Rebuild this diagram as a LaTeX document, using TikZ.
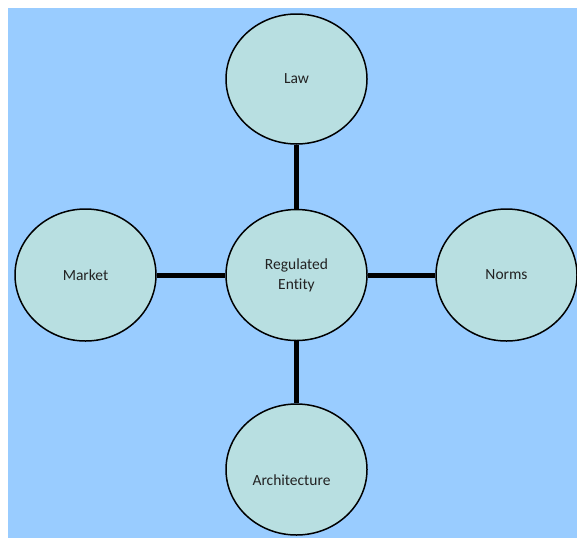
\documentclass[tikz,border=0pt]{standalone}
\usepackage{fontspec}
\setmainfont{Carlito}[Ligatures=NoCommon]
\usetikzlibrary{shapes.geometric}
\definecolor{skyback}{RGB}{153,204,255}
\definecolor{bubblefill}{RGB}{184,223,225}
\definecolor{labeltext}{RGB}{34,34,34}
\tikzset{
    force/.style={ellipse, draw=black, line width=1.5pt, fill=bubblefill,
        minimum width=141pt, minimum height=131pt, inner sep=0pt,
        text=labeltext, font=\fontsize{15.5}{20}\selectfont, align=center},
    tie/.style={line width=5pt, black}
}
\begin{document}
\begin{tikzpicture}[x=1pt, y=-1pt]
    % page and background
    \useasboundingbox (0,0) rectangle (577,538);
    \fill[skyback] (8,8) rectangle (577,538);

    % the regulated entity and the four forces
    \node[force] (entity) at (296.5, 275) {Regulated\\Entity};
    \node[force, minimum height=130pt] (law) at (296.5, 79) {Law};
    \node[force, minimum height=132pt] (market) at (85.5, 275) {Market};
    \node[force, minimum height=132pt] (norms) at (506.5, 275) {Norms};
    \node[force, label={[text=labeltext, font=\fontsize{15.5}{20}\selectfont,
        xshift=-5pt, yshift=-11pt]center:Architecture}] (arch) at (296.5, 469.5) {};

    % connectors
    \draw[tie] (law) -- (entity);
    \draw[tie] (market) -- (entity);
    \draw[tie] (entity) -- (norms);
    \draw[tie] (entity) -- (arch);
\end{tikzpicture}
\end{document}
